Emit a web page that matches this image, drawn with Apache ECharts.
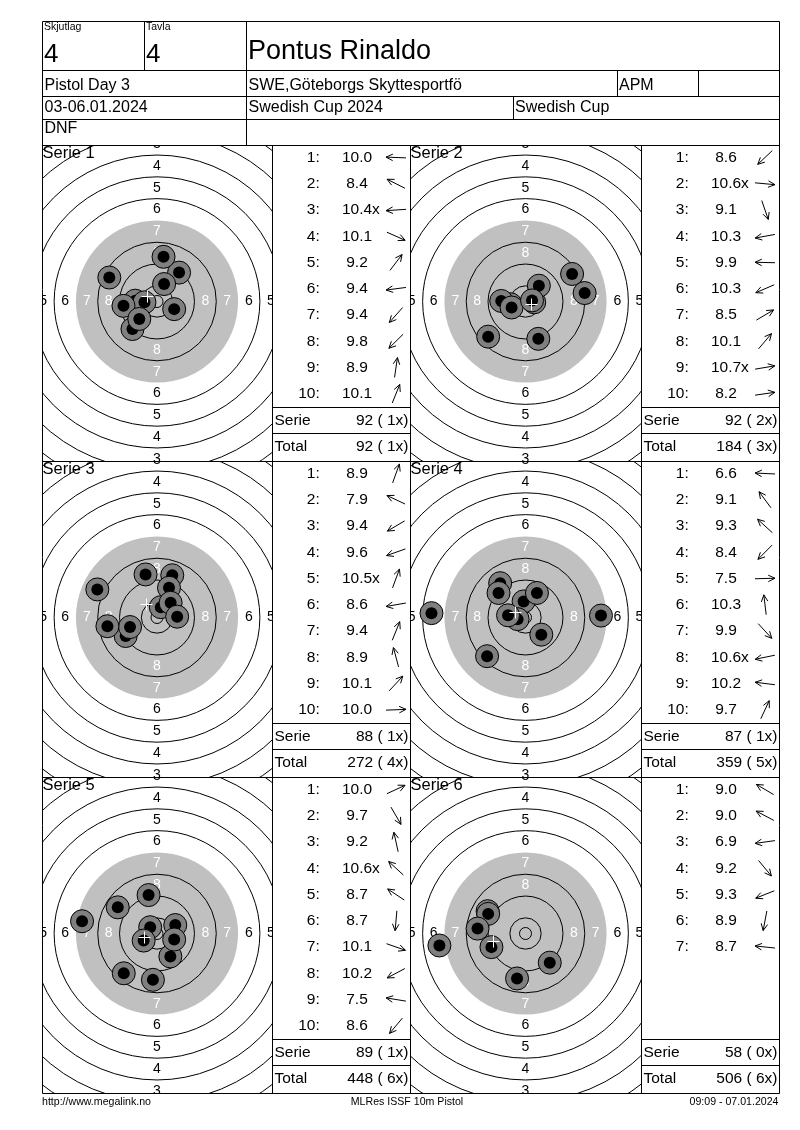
<!DOCTYPE html>
<html><head><meta charset="utf-8">
<script src="https://cdn.jsdelivr.net/npm/echarts@6/dist/echarts.min.js"></script>
<style>html,body{margin:0;padding:0;background:#fff}#c{width:800px;height:1130px}</style>
</head><body><div id="c"></div>
<script>
// ---------- header data ----------
const skjutlag = '4';
const tavla = '4';
const shooterName = 'Pontus Rinaldo';
const eventName = 'Pistol Day 3';
const clubName = 'SWE,Göteborgs Skyttesportfö';
const classCode = 'APM';
const dateRange = '03-06.01.2024';
const competition = 'Swedish Cup 2024';
const cupName = 'Swedish Cup';
const statusText = 'DNF';
const footerLeft = 'http://www.megalink.no';
const footerMid = 'MLRes ISSF 10m Pistol';
const footerRight = '09:09 - 07.01.2024';
const serieNames = ['Serie 1', 'Serie 2', 'Serie 3', 'Serie 4', 'Serie 5', 'Serie 6'];

// ---------- target (ISSF 10m pistol), radii in mm ----------
const ringNumbers = [1, 2, 3, 4, 5, 6, 7, 8, 9, 10];
const ringRadiusMM = [77.75, 69.75, 61.75, 53.75, 45.75, 37.75, 29.75, 21.75, 13.75, 5.75];
const innerTenRadiusMM = 2.2;
const labelledRings = [1, 2, 3, 4, 5, 6, 7, 8];
const blackAreaFromRing = 7;

// ---------- shots: scores and positions (mm, x right, y up) ----------
const serie1Scores = ['10.0', '8.4', '10.4x', '10.1', '9.2', '9.4', '9.4', '9.8', '8.9', '10.1'];
const serie1X = [-8.0, -17.5, -4.6, 6.3, 8.1, -12.3, -9.0, -6.5, 2.4, 2.6];
const serie1Y = [0.3, 8.8, -0.3, -2.8, 10.6, -1.6, -10.1, -6.4, 16.4, 6.4];

const serie2Scores = ['8.6', '10.6x', '9.1', '10.3', '9.9', '10.3', '8.5', '10.1', '10.7x', '8.2'];
const serie2X = [-13.7, 3.2, 4.7, -5.5, -8.9, -5.1, 17.1, 4.9, 2.4, 21.7];
const serie2Y = [-12.9, -0.3, -13.7, -1.0, 0.2, -2.2, 10.1, 5.8, 0.4, 3.1];

const serie3Scores = ['8.9', '7.9', '9.4', '9.6', '10.5x', '8.6', '9.4', '8.9', '10.1', '10.0'];
const serie3X = [5.6, -21.9, -11.5, -9.9, 1.4, -18.2, 4.4, -4.2, 5.0, 7.4];
const serie3Y = [15.5, 10.3, -6.8, -3.5, 3.8, -3.2, 10.9, 15.8, 5.4, 0.3];

const serie4Scores = ['6.6', '9.1', '9.3', '8.4', '7.5', '10.3', '9.9', '10.6x', '10.2', '9.7'];
const serie4X = [-34.5, -9.3, -9.9, -14.1, 27.7, -0.7, 5.8, -2.9, -6.4, 4.2];
const serie4Y = [1.6, 12.6, 9.0, -14.2, 0.7, 5.9, -6.3, -0.6, 0.8, 9.0];

const serie5Scores = ['10.0', '9.7', '9.2', '10.6x', '8.7', '8.7', '10.1', '10.2', '7.5', '8.6'];
const serie5X = [6.7, 4.9, -3.1, -2.5, -14.4, -1.5, 6.3, -4.9, -27.5, -12.2];
const serie5Y = [3.1, -8.4, 14.1, 2.3, 9.6, -17.0, -2.2, -2.6, 4.5, -14.6];

const serie6Scores = ['9.0', '9.0', '6.9', '9.2', '9.3', '8.9', '8.7'];
const serie6X = [-13.9, -13.7, -31.6, 8.9, -12.5, -3.1, -17.6];
const serie6Y = [8.2, 7.2, -4.4, -10.7, -5.0, -16.5, 1.8];

const allScores = [serie1Scores, serie2Scores, serie3Scores, serie4Scores, serie5Scores, serie6Scores];
const allX = [serie1X, serie2X, serie3X, serie4X, serie5X, serie6X];
const allY = [serie1Y, serie2Y, serie3Y, serie4Y, serie5Y, serie6Y];

// ---------- layout ----------
const FONT = '"Liberation Sans", Arial, Helvetica, sans-serif';
const SCALE = 2.725;         // px per mm
const CENTER_OFF = 156.5;    // target centre below panel top
const ROW_H = 316;
const rowTops = [145, 461, 777];
const cols = [{x: 42, w: 230, tx: 272, tw: 138}, {x: 410, w: 231, tx: 641, tw: 138}];
const RIGHT = 779, TOP = 21, BOTTOM = 1093;

const measureCtx = document.createElement('canvas').getContext('2d');
function textWidth(t, size) { measureCtx.font = size + 'px ' + FONT; return measureCtx.measureText(t).width; }

const graphics = [];
function txt(text, x, y, size, align, color) {
  graphics.push({type: 'text', x: x, y: y, z: 100, silent: true,
    style: {text: text, fill: color || '#000', font: size + 'px ' + FONT,
      textAlign: align, textVerticalAlign: 'middle', align: align, verticalAlign: 'middle'}});
}
function line(x1, y1, x2, y2) {
  graphics.push({type: 'line', z: 100, silent: true,
    shape: {x1: x1, y1: y1, x2: x2, y2: y2}, style: {stroke: '#000', lineWidth: 1}});
}
function arrow(cx, cy, ang) {
  const L = 10, H = 7.5, spread = 0.45;
  const dx = Math.cos(ang), dy = -Math.sin(ang);
  const tip = [cx + dx * L, cy + dy * L], tail = [cx - dx * L, cy - dy * L];
  graphics.push({type: 'polyline', z: 100, silent: true, shape: {points: [tail, tip]}, style: {stroke: '#000', lineWidth: 1, fill: null}});
  const back = ang + Math.PI;
  const h1 = [tip[0] + Math.cos(back + spread) * H, tip[1] - Math.sin(back + spread) * H];
  const h2 = [tip[0] + Math.cos(back - spread) * H, tip[1] - Math.sin(back - spread) * H];
  graphics.push({type: 'polyline', z: 100, silent: true, shape: {points: [h1, tip, h2]}, style: {stroke: '#000', lineWidth: 1, fill: null}});
}

// ---------- header ----------
const c = v => Math.round(v) + 0.5;
line(c(42), c(TOP), c(RIGHT), c(TOP));
[70, 96, 119, 145, 461, 777, BOTTOM].forEach(y => line(c(42), c(y), c(RIGHT), c(y)));
line(c(42), c(TOP), c(42), c(BOTTOM));
line(c(RIGHT), c(TOP), c(RIGHT), c(BOTTOM));
line(c(144), c(TOP), c(144), c(70));
line(c(246), c(TOP), c(246), c(145));
line(c(617), c(70), c(617), c(96));
line(c(698), c(70), c(698), c(96));
line(c(513), c(96), c(513), c(119));
[272, 410, 641].forEach(x => line(c(x), c(145), c(x), c(BOTTOM)));

txt('Skjutlag', 44, 27, 10.5, 'left');
txt('Tavla', 146, 27, 10.5, 'left');
txt(skjutlag, 44, 54.5, 26, 'left');
txt(tavla, 146, 54.5, 26, 'left');
txt(shooterName, 248, 51.5, 27, 'left');
txt(eventName, 44.5, 85.5, 16, 'left');
txt(clubName, 248.5, 85.5, 16, 'left');
txt(classCode, 619, 85.5, 16, 'left');
txt(dateRange, 44.5, 107.5, 16, 'left');
txt(competition, 248.5, 107.5, 16, 'left');
txt(cupName, 515, 107.5, 16, 'left');
txt(statusText, 44.5, 129, 16, 'left');

txt(footerLeft, 42, 1102, 10.6, 'left');
txt(footerMid, 407, 1102, 10.6, 'center');
txt(footerRight, 778.5, 1102, 10.6, 'right');

// ---------- tables ----------
let runningTotal = 0, runningX = 0;
allScores.forEach((scores, k) => {
  const col = cols[k % 2], T = rowTops[Math.floor(k / 2)], L = col.tx;
  let sum = 0, xc = 0;
  scores.forEach((s, i) => {
    const y = T + 12.5 + i * 26.25;
    const isX = s.endsWith('x');
    const num = s.replace('x', '');
    sum += Math.floor(parseFloat(num));
    if (isX) xc++;
    txt((i + 1) + ':', L + 47.7, y, 15.5, 'right');
    txt(num, L + 85, y, 15.5, 'center');
    if (isX) txt('x', L + 85 + textWidth(num, 15.5) / 2, y, 15.5, 'left');
    arrow(L + 124, y, Math.atan2(allY[k][i], allX[k][i]));
  });
  runningTotal += sum; runningX += xc;
  line(c(L), c(T + 262), c(L + col.tw), c(T + 262));
  line(c(L), c(T + 288), c(L + col.tw), c(T + 288));
  txt('Serie', L + 2.5, T + 275.5, 15.5, 'left');
  txt(sum + ' ( ' + xc + 'x)', L + col.tw - 1.5, T + 275.5, 15.5, 'right');
  txt('Total', L + 2.5, T + 301.8, 15.5, 'left');
  txt(runningTotal + ' ( ' + runningX + 'x)', L + col.tw - 1.5, T + 301.8, 15.5, 'right');
  txt(serieNames[k], col.x + 0.5, T + 8.5, 16.5, 'left');
});

// ---------- target panels ----------
const grids = [], xAxes = [], yAxes = [], series = [];
const dirs = [[0, 1], [0, -1], [-1, 0], [1, 0]];
allScores.forEach((scores, k) => {
  const col = cols[k % 2], T = rowTops[Math.floor(k / 2)];
  grids.push({left: col.x, top: T, width: col.w, height: ROW_H, show: false});
  xAxes.push({type: 'value', gridIndex: k, min: -col.w / 2 / SCALE, max: col.w / 2 / SCALE, show: false});
  yAxes.push({type: 'value', gridIndex: k, min: -(ROW_H - CENTER_OFF) / SCALE, max: CENTER_OFF / SCALE, show: false});
  const base = {type: 'custom', coordinateSystem: 'cartesian2d', xAxisIndex: k, yAxisIndex: k, clip: true, silent: true, animation: false};

  // black (grey) aiming area
  series.push(Object.assign({}, base, {z: 1,
    data: [[0, 0, ringRadiusMM[ringNumbers.indexOf(blackAreaFromRing)]]],
    renderItem: (p, api) => {
      const o = api.coord([0, 0]); const r = api.size([api.value(2), 0])[0];
      return {type: 'circle', shape: {cx: o[0], cy: o[1], r: r}, style: {fill: '#c0c0c0', stroke: null}};
    }}));
  // ring lines
  const ringData = ringRadiusMM.filter((r, i) => ringNumbers[i] !== blackAreaFromRing).map(r => [0, 0, r]);
  ringData.push([0, 0, innerTenRadiusMM]);
  series.push(Object.assign({}, base, {z: 2, data: ringData,
    renderItem: (p, api) => {
      const o = api.coord([0, 0]); const r = api.size([api.value(2), 0])[0];
      return {type: 'circle', shape: {cx: o[0], cy: o[1], r: r}, style: {fill: null, stroke: '#000', lineWidth: 1}};
    }}));
  // ring numbers
  const labelData = [];
  labelledRings.forEach(n => {
    const i = ringNumbers.indexOf(n);
    const mid = (ringRadiusMM[i] + ringRadiusMM[i + 1]) / 2;
    dirs.forEach(d => labelData.push([d[0] * mid, d[1] * mid, n]));
  });
  series.push(Object.assign({}, base, {z: 3, data: labelData,
    renderItem: (p, api) => {
      const pt = api.coord([api.value(0), api.value(1)]); const n = api.value(2);
      return {type: 'text', x: pt[0], y: pt[1],
        style: {text: String(n), fill: n >= blackAreaFromRing ? '#fff' : '#000', font: '14px ' + FONT,
          textAlign: 'center', textVerticalAlign: 'middle', align: 'center', verticalAlign: 'middle'}};
    }}));
  // shots
  const shotData = allX[k].map((x, i) => [x, allY[k][i], i]);
  series.push(Object.assign({}, base, {z: 4, data: shotData,
    renderItem: (p, api) => {
      const pt = api.coord([api.value(0), api.value(1)]); const i = p.dataIndex;
      return {type: 'group', children: [
        {type: 'circle', z2: i * 2, shape: {cx: pt[0], cy: pt[1], r: 11.5}, style: {fill: '#808080', stroke: '#000', lineWidth: 1}},
        {type: 'circle', z2: i * 2 + 1, shape: {cx: pt[0], cy: pt[1], r: 6}, style: {fill: '#000', stroke: null}}
      ]};
    }}));
  // mean point of impact
  const mx = allX[k].reduce((a, b) => a + b, 0) / allX[k].length;
  const my = allY[k].reduce((a, b) => a + b, 0) / allY[k].length;
  series.push(Object.assign({}, base, {z: 5, data: [[mx, my]],
    renderItem: (p, api) => {
      const pt = api.coord([api.value(0), api.value(1)]);
      const x = Math.round(pt[0]) + 0.5, y = Math.round(pt[1]) + 0.5;
      return {type: 'group', children: [
        {type: 'line', shape: {x1: x - 6, y1: y, x2: x + 6, y2: y}, style: {stroke: '#fff', lineWidth: 1}},
        {type: 'line', shape: {x1: x, y1: y - 6, x2: x, y2: y + 6}, style: {stroke: '#fff', lineWidth: 1}}
      ]};
    }}));
});

const chart = echarts.init(document.getElementById('c'), null, {renderer: 'canvas', width: 800, height: 1130});
chart.setOption({
  animation: false,
  backgroundColor: '#fff',
  grid: grids, xAxis: xAxes, yAxis: yAxes,
  series: series,
  graphic: {elements: graphics}
});
</script></body></html>
